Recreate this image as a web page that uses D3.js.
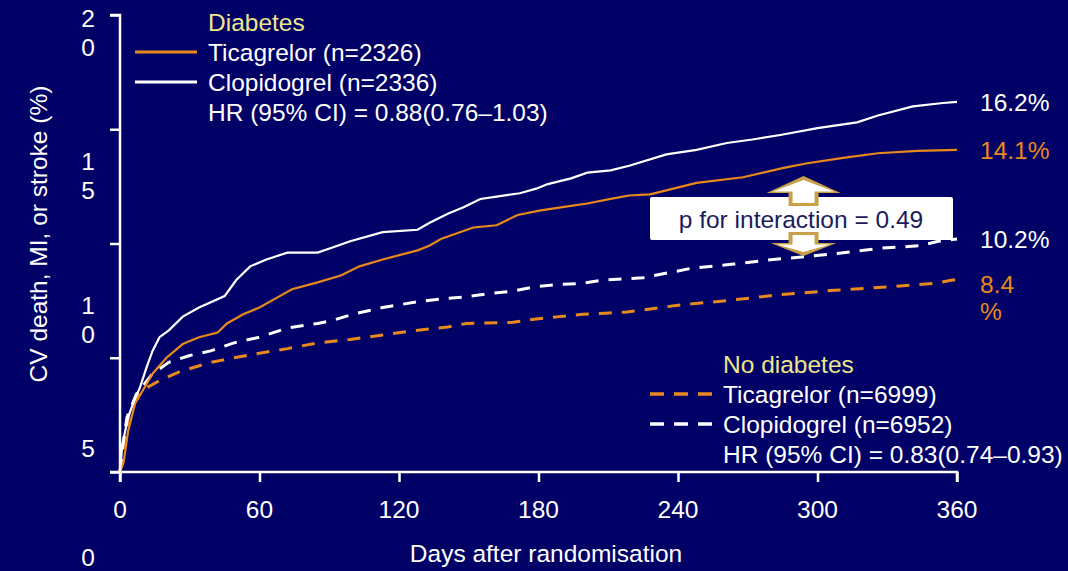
<!DOCTYPE html>
<html lang="en">
  <head>
    <meta charset="UTF-8" />
    <title>CV death, MI, or stroke by diabetes status</title>
    <script src="https://d3js.org/d3.v7.min.js"></script>
    <style>
      body {
        margin: 0;
        background: #000066;
        font-family: 'Liberation Sans', Arial, sans-serif;
      }
      svg text {
        fill: #ffffff;
        font-size: 24.5px;
      }
      .axis path,
      .axis line {
        stroke: #ffffff;
        stroke-width: 2.5px;
      }
    </style>
  </head>
  <body>
    <svg id="chart" width="1068" height="571"></svg>
    <script>
      // Kaplan-Meier estimates: [day, cumulative %]
      const diabTicagrelor = [
        [0, 0], [1.5, 0.4], [3.5, 1.8], [6.5, 3.0], [10, 3.6], [14, 4.3],
        [20, 5.0], [27, 5.6], [34, 5.9], [42, 6.1], [46, 6.5], [53, 6.9],
        [60, 7.2], [67, 7.6], [74, 8.0], [85, 8.3], [95, 8.6], [103, 9.0],
        [113, 9.3], [128, 9.7], [133, 9.9], [138, 10.2], [145, 10.45],
        [152, 10.7], [162, 10.8], [171, 11.25], [181, 11.45], [191, 11.6],
        [201, 11.75], [211, 11.95], [219, 12.1], [228, 12.15], [238, 12.4],
        [248, 12.65], [268, 12.9], [285, 13.3], [295, 13.5], [311, 13.75],
        [326, 13.95], [343, 14.05], [360, 14.1],
      ];
      const diabClopidogrel = [
        [0, 0], [1, 1.2], [3.5, 2.4], [6, 3.1], [8.6, 3.7], [11.5, 4.6],
        [14, 5.3], [17, 5.9], [21, 6.2], [27, 6.8], [34, 7.2], [45, 7.7],
        [50, 8.4], [56, 9.0], [63, 9.3], [72, 9.6], [85, 9.6], [92, 9.85],
        [99, 10.1], [113, 10.5], [128, 10.6], [133, 10.9], [141, 11.3],
        [148, 11.6], [155, 11.95], [162, 12.05], [172, 12.2], [179, 12.4],
        [184, 12.6], [194, 12.85], [201, 13.1], [211, 13.2], [219, 13.4],
        [235, 13.9], [248, 14.1], [261, 14.4], [272, 14.55], [284, 14.75],
        [300, 15.05], [317, 15.3], [326, 15.6], [341, 16.0], [354, 16.15],
        [360, 16.2],
      ];
      const noDiabTicagrelor = [
        [0, 0], [1, 0.8], [4, 2.6], [6, 3.1], [10, 3.6], [17, 4.0], [26, 4.4],
        [39, 4.8], [49, 5.0], [60, 5.2], [72, 5.4], [85, 5.65], [99, 5.8],
        [113, 6.0], [128, 6.2], [141, 6.35], [149, 6.5], [169, 6.55],
        [179, 6.7], [189, 6.8], [199, 6.9], [209, 6.95], [218, 7.0],
        [240, 7.3], [261, 7.5], [283, 7.75], [307, 7.95], [330, 8.1],
        [350, 8.25], [358, 8.4], [360, 8.4],
      ];
      const noDiabClopidogrel = [
        [0, 0], [1, 1.0], [3, 2.4], [7, 3.4], [14, 4.3], [21, 4.8], [30, 5.1],
        [39, 5.3], [49, 5.65], [60, 5.9], [72, 6.3], [85, 6.5], [92, 6.65],
        [100, 6.9], [113, 7.2], [128, 7.45], [141, 7.6], [148, 7.65],
        [158, 7.8], [168, 7.9], [178, 8.1], [188, 8.2], [198, 8.25],
        [208, 8.4], [225, 8.5], [245, 8.9], [264, 9.1], [281, 9.3],
        [292, 9.4], [307, 9.55], [328, 9.8], [344, 9.9], [352, 10.1],
        [360, 10.2],
      ];

      const xTicks = [0, 60, 120, 180, 240, 300, 360];
      const yTicks = [0, 5, 10, 15, 20];
      const endLabels = [['16.2%'], ['14.1%'], ['10.2%'], ['8.4', '%']];
      const endValues = [16.2, 14.1, 10.2, 8.4];

      const diabLegend = [
        'Ticagrelor (n=2326)',
        'Clopidogrel (n=2336)',
        'HR (95% CI) = 0.88(0.76–1.03)',
      ];
      const noDiabLegend = [
        'Ticagrelor (n=6999)',
        'Clopidogrel (n=6952)',
        'HR (95% CI) = 0.83(0.74–0.93)',
      ];
      const interactionText = 'p for interaction = 0.49';
      const interactionDay = 294;

      const orange = '#e8891c';
      const yellow = '#eee68c';
      const gold = '#c8a04a';

      const svg = d3.select('#chart');

      const x = d3.scaleLinear().domain([0, 360]).range([120, 957]);
      const y = d3.scaleLinear().domain([0, 20]).range([472, 15]);
      // the slide's y labels sit on their own (stretched) spacing
      const yLabel = d3.scaleLinear().domain([20, 5]).range([27, 457]);

      // X axis
      const xAxis = svg
        .append('g')
        .attr('class', 'axis')
        .attr('transform', 'translate(0,472)')
        .call(d3.axisBottom(x).tickValues(xTicks).tickSize(10).tickFormat(''));
      xAxis.select('.domain').attr('d', `M110,0H${x(360)}V10`);

      svg
        .append('g')
        .selectAll('text')
        .data(xTicks)
        .join('text')
        .attr('x', (d) => x(d))
        .attr('y', 518)
        .attr('text-anchor', 'middle')
        .text((d) => d);

      // Y axis
      const yAxis = svg
        .append('g')
        .attr('class', 'axis')
        .attr('transform', 'translate(120,0)')
        .call(d3.axisLeft(y).tickValues(yTicks).tickSize(10).tickFormat(''));
      yAxis.select('.domain').attr('d', `M-10,${y(20)}H0V482`);

      svg
        .append('g')
        .selectAll('text')
        .data(yTicks)
        .join('text')
        .attr('text-anchor', 'middle')
        .attr('y', (d) => Math.min(yLabel(d), 566))
        .selectAll('tspan')
        .data((d) => String(d).split(''))
        .join('tspan')
        .attr('x', 88)
        .attr('dy', (d, i) => (i === 0 ? 0 : 29))
        .text((d) => d);

      svg
        .append('text')
        .attr('transform', 'translate(47,234) rotate(-90)')
        .attr('text-anchor', 'middle')
        .text('CV death, MI, or stroke (%)');

      svg
        .append('text')
        .attr('x', 546)
        .attr('y', 562)
        .attr('text-anchor', 'middle')
        .text('Days after randomisation');

      // Curves
      const line = d3
        .line()
        .x((d) => x(d[0]))
        .y((d) => y(d[1]));

      const series = [
        { data: noDiabTicagrelor, color: orange, dash: '13,10', width: 3 },
        { data: noDiabClopidogrel, color: '#ffffff', dash: '13,10', width: 3 },
        { data: diabTicagrelor, color: orange, dash: null, width: 2.2 },
        { data: diabClopidogrel, color: '#ffffff', dash: null, width: 2.2 },
      ];

      svg
        .append('g')
        .selectAll('path')
        .data(series)
        .join('path')
        .attr('d', (d) => line(d.data))
        .attr('fill', 'none')
        .attr('stroke', (d) => d.color)
        .attr('stroke-width', (d) => d.width)
        .attr('stroke-dasharray', (d) => d.dash);

      // End-of-follow-up labels
      const endColors = ['#ffffff', orange, '#ffffff', orange];
      svg
        .append('g')
        .selectAll('text')
        .data(endLabels)
        .join('text')
        .attr('y', (d, i) => y(endValues[i]) + (d.length > 1 ? 13 : 9))
        .style('fill', (d, i) => endColors[i])
        .selectAll('tspan')
        .data((d) => d)
        .join('tspan')
        .attr('x', 980)
        .attr('dy', (d, i) => (i === 0 ? 0 : 27))
        .text((d) => d);

      // Legends
      function legend(title, rows, x0, y0, dash) {
        const g = svg.append('g');
        g.append('text')
          .attr('x', x0)
          .attr('y', y0)
          .style('fill', yellow)
          .text(title);
        rows.forEach((t, i) => {
          g.append('text')
            .attr('x', x0)
            .attr('y', y0 + 30 * (i + 1))
            .text(t);
        });
        [orange, '#ffffff'].forEach((c, i) => {
          g.append('line')
            .attr('x1', x0 - 73)
            .attr('x2', x0 - 11)
            .attr('y1', y0 + 30 * (i + 1) - 9)
            .attr('y2', y0 + 30 * (i + 1) - 9)
            .attr('stroke', c)
            .attr('stroke-width', dash ? 3.5 : 3)
            .attr('stroke-dasharray', dash);
        });
      }
      legend('Diabetes', diabLegend, 208, 31, null);
      legend('No diabetes', noDiabLegend, 723, 373, '14,10');

      // Interaction box with arrows
      const ax = x(interactionDay);
      svg
        .append('rect')
        .attr('x', 650)
        .attr('y', 197)
        .attr('width', 303)
        .attr('height', 43)
        .attr('rx', 2)
        .attr('fill', '#ffffff');

      function arrow(tipY, baseY, endY, headW, shaftW, inset) {
        const s = Math.sign(baseY - tipY);
        return d3.line()([
          [ax, tipY + s * inset],
          [ax + headW - inset * 1.6, baseY - s * inset * 0.4],
          [ax + shaftW - inset, baseY - s * inset * 0.4],
          [ax + shaftW - inset, endY],
          [ax - shaftW + inset, endY],
          [ax - shaftW + inset, baseY - s * inset * 0.4],
          [ax - headW + inset * 1.6, baseY - s * inset * 0.4],
        ]) + 'Z';
      }
      const arrows = svg.append('g');
      [
        [176, 193, 206, 37, 15],
        [256, 243, 232, 33, 15],
      ].forEach(([t, b, e, hw, sw]) => {
        arrows.append('path').attr('d', arrow(t, b, e, hw, sw, 0)).attr('fill', gold);
        arrows
          .append('path')
          .attr('d', arrow(t, b, e + Math.sign(t - b) * 3, hw, sw, 4))
          .attr('fill', '#ffffff');
      });

      svg
        .append('text')
        .attr('x', 801)
        .attr('y', 228)
        .attr('text-anchor', 'middle')
        .style('fill', '#1c1c5c')
        .text(interactionText);
    </script>
  </body>
</html>
